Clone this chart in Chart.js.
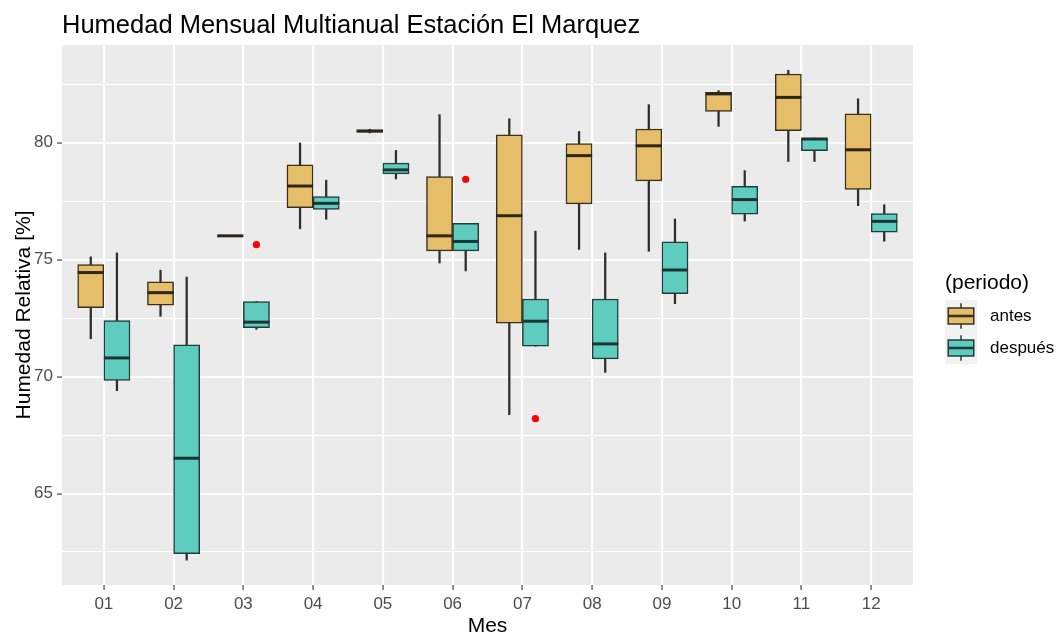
<!DOCTYPE html>
<html>
<head>
<meta charset="utf-8">
<script src="https://cdn.jsdelivr.net/npm/chart.js@4.4.1/dist/chart.umd.min.js"></script>
<style>
html,body{margin:0;padding:0;background:#ffffff;}
#wrap{width:1063px;height:637px;}
</style>
</head>
<body>
<div id="wrap"><canvas id="c" width="1063" height="637"></canvas></div>
<script>
// ---- data ----
const months = ['01','02','03','04','05','06','07','08','09','10','11','12'];
const seriesNames = ['antes', 'después'];

const antesLow  = [71.62, 72.58, 76.02, 76.32, 80.42, 74.86, 68.37, 75.44, 75.36, 80.70, 79.20, 77.31];
const antesQ1   = [72.95, 73.06, 76.02, 77.22, 80.45, 75.38, 72.29, 77.39, 78.37, 81.34, 80.52, 78.01];
const antesMed  = [74.45, 73.59, 76.02, 78.15, 80.50, 76.02, 76.88, 79.45, 79.87, 82.09, 81.94, 79.70];
const antesQ3   = [74.79, 74.05, 76.02, 79.06, 80.55, 78.55, 80.34, 79.97, 80.59, 82.16, 82.94, 81.24];
const antesHigh = [75.12, 74.55, 76.02, 79.99, 80.58, 81.20, 81.02, 80.48, 81.63, 82.23, 83.10, 81.88];

const despLow  = [69.40, 62.15, 72.02, 76.73, 78.45, 74.52, 71.30, 70.18, 73.12, 76.65, 79.20, 75.79];
const despQ1   = [69.84, 62.43, 72.09, 77.15, 78.67, 75.38, 71.30, 70.76, 73.55, 76.95, 79.66, 76.18];
const despMed  = [70.80, 66.51, 72.33, 77.41, 78.84, 75.78, 72.37, 71.40, 74.56, 77.57, 80.16, 76.64];
const despQ3   = [72.40, 71.36, 73.21, 77.70, 79.13, 76.55, 73.32, 73.32, 75.76, 78.14, 80.20, 76.97];
const despHigh = [75.29, 74.26, 73.21, 78.40, 79.67, 76.55, 76.22, 75.29, 76.74, 78.81, 80.20, 77.35];

const outlierMonth = [3, 6, 7];
const outlierValue = [75.64, 78.44, 68.20];

const yMajorTicks = [65, 70, 75, 80];
const yMinorTicks = [62.5, 67.5, 72.5, 77.5, 82.5];

// ---- styling ----
const FONT = "'Liberation Sans', Arial, sans-serif";
const DODGE = 0.1875;
const ANTES_FILL = '#E6BE6A';
const ANTES_LINE = '#3A301E';
const DESP_FILL = '#5ECDC0';
const DESP_LINE = '#233C39';
const TITLE = 'Humedad Mensual Multianual Estación El Marquez';

const xAntes = months.map((m, i) => i + 1 - DODGE);
const xDesp = months.map((m, i) => i + 1 + DODGE);
const ranges = (xs, lo, hi) => xs.map((x, i) => ({x: x, y: [lo[i], hi[i]]}));

const panelBg = {
  id: 'panelBg',
  beforeDraw(chart) {
    const {ctx, chartArea: a} = chart;
    ctx.save();
    ctx.fillStyle = '#EBEBEB';
    ctx.fillRect(a.left, a.top, a.right - a.left, a.bottom - a.top);
    ctx.restore();
  }
};

const medianLines = {
  id: 'medianLines',
  afterDatasetDraw(chart, args) {
    const ds = chart.data.datasets[args.index];
    if (!ds.medians) return;
    const ctx = chart.ctx;
    const ys = chart.scales.y;
    ctx.save();
    ctx.strokeStyle = ds.medianColor;
    ctx.lineWidth = 3;
    args.meta.data.forEach((bar, i) => {
      const p = bar.getProps(['x', 'width'], true);
      const y = ys.getPixelForValue(ds.medians[i]);
      ctx.beginPath();
      ctx.moveTo(p.x - p.width / 2, y);
      ctx.lineTo(p.x + p.width / 2, y);
      ctx.stroke();
    });
    ctx.restore();
  }
};

const titleAndLegend = {
  id: 'titleAndLegend',
  afterDraw(chart) {
    const {ctx, chartArea: a} = chart;
    ctx.save();
    ctx.fillStyle = '#000000';
    ctx.textBaseline = 'alphabetic';
    ctx.textAlign = 'left';
    ctx.font = '25.5px ' + FONT;
    ctx.fillText(TITLE, a.left, 32.5);

    // legend
    const lx = 945;
    ctx.font = '21px ' + FONT;
    ctx.textBaseline = 'middle';
    ctx.fillText('(periodo)', lx, 283);
    const keys = [
      {label: seriesNames[0], fill: ANTES_FILL, line: ANTES_LINE},
      {label: seriesNames[1], fill: DESP_FILL, line: DESP_LINE}
    ];
    const ks = 32;
    keys.forEach((k, i) => {
      const top = 300 + i * ks;
      ctx.fillStyle = '#F2F2F2';
      ctx.fillRect(lx, top, ks, ks);
      const cx = lx + ks / 2;
      ctx.strokeStyle = k.line;
      ctx.lineWidth = 1.5;
      ctx.beginPath();
      ctx.moveTo(cx, top + ks * 0.1); ctx.lineTo(cx, top + ks * 0.25);
      ctx.moveTo(cx, top + ks * 0.75); ctx.lineTo(cx, top + ks * 0.9);
      ctx.stroke();
      ctx.fillStyle = k.fill;
      ctx.fillRect(lx + ks * 0.1, top + ks * 0.25, ks * 0.8, ks * 0.5);
      ctx.strokeRect(lx + ks * 0.1, top + ks * 0.25, ks * 0.8, ks * 0.5);
      ctx.lineWidth = 2.6;
      ctx.beginPath();
      ctx.moveTo(lx + ks * 0.1, top + ks * 0.5); ctx.lineTo(lx + ks * 0.9, top + ks * 0.5);
      ctx.stroke();
      ctx.fillStyle = '#000000';
      ctx.font = '17px ' + FONT;
      ctx.fillText(k.label, 990, top + ks / 2);
    });
    ctx.restore();
  }
};

const isMajor = v => yMajorTicks.indexOf(v) !== -1;

new Chart(document.getElementById('c'), {
  type: 'bar',
  data: {
    datasets: [
      {
        label: seriesNames[0], data: ranges(xAntes, antesQ1, antesQ3),
        backgroundColor: ANTES_FILL, borderColor: ANTES_LINE, borderWidth: 1.5,
        borderSkipped: false, grouped: false, categoryPercentage: 1, barPercentage: 1,
        order: 1, medians: antesMed, medianColor: '#2E2616'
      },
      {
        label: seriesNames[0] + ' bigotes', data: ranges(xAntes, antesLow, antesHigh),
        backgroundColor: '#2D2D2D', borderWidth: 0, grouped: false, barThickness: 1.6, order: 2
      },
      {
        label: seriesNames[1], data: ranges(xDesp, despQ1, despQ3),
        backgroundColor: DESP_FILL, borderColor: DESP_LINE, borderWidth: 1.5,
        borderSkipped: false, grouped: false, categoryPercentage: 1, barPercentage: 1,
        order: 1, medians: despMed, medianColor: '#1C3532'
      },
      {
        label: seriesNames[1] + ' bigotes', data: ranges(xDesp, despLow, despHigh),
        backgroundColor: '#2D2D2D', borderWidth: 0, grouped: false, barThickness: 1.6, order: 2
      },
      {
        type: 'scatter', label: 'atípicos',
        data: outlierMonth.map((m, i) => ({x: m + DODGE, y: outlierValue[i]})),
        backgroundColor: '#FF0000', borderWidth: 0, pointRadius: 3.6, order: 0
      }
    ]
  },
  options: {
    responsive: false,
    animation: false,
    devicePixelRatio: 1,
    events: [],
    layout: {padding: {top: 45, right: 150, bottom: 0, left: 0}},
    plugins: {
      legend: {display: false},
      title: {display: false},
      tooltip: {enabled: false}
    },
    scales: {
      x: {
        type: 'linear', min: 0.4, max: 12.6, offset: false,
        afterBuildTicks: s => { s.ticks = months.map((m, i) => ({value: i + 1})); },
        afterFit: s => { s.height = 52; },
        border: {display: false},
        grid: {color: '#FFFFFF', lineWidth: 2.1, offset: false, tickColor: '#333333', tickLength: 5, tickWidth: 1.1},
        ticks: {
          autoSkip: false, maxRotation: 0, padding: 4, color: '#4D4D4D',
          font: {family: FONT, size: 17},
          callback: v => months[Math.round(v) - 1] || ''
        },
        title: {display: true, text: 'Mes', color: '#000000', font: {family: FONT, size: 21, lineHeight: 1}, padding: {top: 0, bottom: 0}}
      },
      y: {
        type: 'linear', min: 61.09, max: 84.18,
        afterBuildTicks: s => { s.ticks = yMinorTicks.concat(yMajorTicks).sort((a, b) => a - b).map(v => ({value: v})); },
        afterFit: s => { s.width = 62; },
        border: {display: false},
        grid: {
          color: '#FFFFFF',
          lineWidth: c => isMajor(c.tick.value) ? 2.1 : 1.05,
          tickColor: c => isMajor(c.tick.value) ? '#333333' : 'rgba(0,0,0,0)',
          tickLength: 5, tickWidth: 1.1
        },
        ticks: {
          autoSkip: false, padding: 4, color: '#4D4D4D',
          font: {family: FONT, size: 17},
          callback: v => isMajor(v) ? String(v) : ''
        },
        title: {display: true, text: 'Humedad Relativa [%]', color: '#000000', font: {family: FONT, size: 21}, padding: {top: 12, bottom: 0}}
      }
    }
  },
  plugins: [panelBg, medianLines, titleAndLegend]
});
</script>
</body>
</html>
